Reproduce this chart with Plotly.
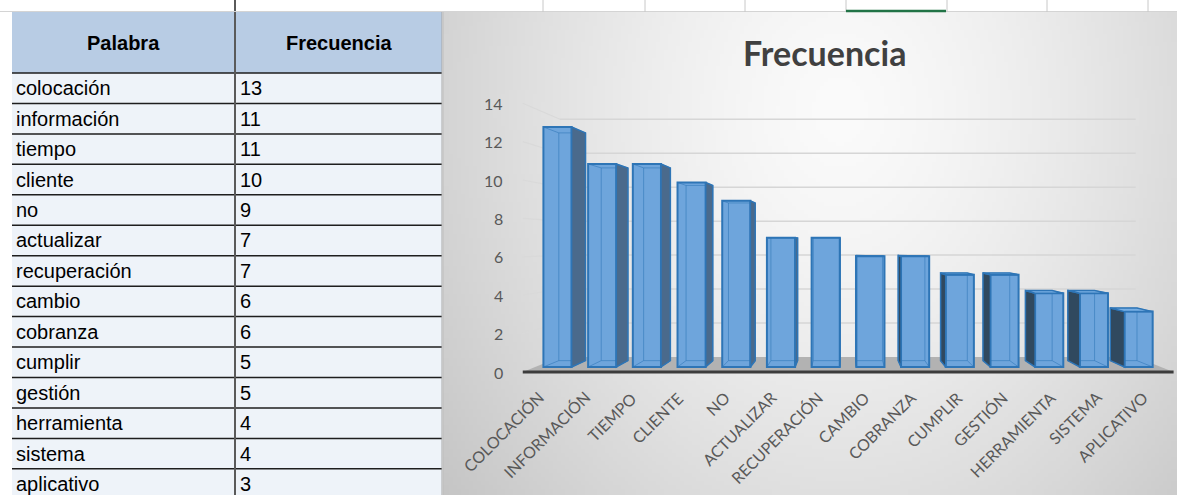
import base64
import struct
import zlib

import numpy as np
import plotly.graph_objects as go

# ---------------------------------------------------------------- data
palabras = ["colocación", "información", "tiempo", "cliente", "no", "actualizar",
            "recuperación", "cambio", "cobranza", "cumplir", "gestión",
            "herramienta", "sistema", "aplicativo"]
frecuencias = [13, 11, 11, 10, 9, 7, 7, 6, 6, 5, 5, 4, 4, 3]
marcas_y = [0, 2, 4, 6, 8, 10, 12, 14]
etiquetas_x = [p.upper() for p in palabras]

# ---------------------------------------------------------------- layout constants
W, H = 1177, 495
CAT_PX = 44.7        # horizontal distance between two columns (bar plane)
CAT0_PX = 557.5      # centre of the first column
UNIT_PX = 18.46      # one frequency unit on the bar plane
BASE_PX = 367        # baseline of the bar plane

S_FRONT = 1.04       # depth scale of the floor / side-wall front edge
S_BAR_BACK = 0.949   # depth scale of the back face of every column
S_WALL = 0.92        # depth scale of the back wall
BAR_W = 0.63

n = len(frecuencias)


def dx(px):
    return (px - CAT0_PX) / CAT_PX


def dy(py):
    return (BASE_PX - py) / UNIT_PX


VX, VY = dx(845), dy(242)   # vanishing point in data units


def proj(x, v, s):
    return VX + (x - VX) * s, VY + (v - VY) * s


def fx(px):
    return px / W


def fy(py):
    return 1 - py / H


def path(points):
    return "M " + " L ".join(f"{x:.4f},{y:.4f}" for x, y in points) + " Z"


# ---------------------------------------------------------------- background gradient
def gray_png(arr):
    h, w = arr.shape
    raw = b"".join(b"\x00" + row.tobytes() for row in arr.astype(np.uint8))

    def chunk(tag, data):
        c = struct.pack(">I", len(data)) + tag + data
        return c + struct.pack(">I", zlib.crc32(tag + data) & 0xFFFFFFFF)

    png = b"\x89PNG\r\n\x1a\n"
    png += chunk(b"IHDR", struct.pack(">IIBBBBB", w, h, 8, 0, 0, 0, 0))
    png += chunk(b"IDAT", zlib.compress(raw, 9))
    png += chunk(b"IEND", b"")
    return "data:image/png;base64," + base64.b64encode(png).decode()


CH_X0, CH_Y0 = 443, 12
gw, gh = 184, 121
gx = CH_X0 + (np.arange(gw) + 0.5) * (W - CH_X0) / gw
gy = CH_Y0 + (np.arange(gh) + 0.5) * (H - CH_Y0) / gh
GX, GY = np.meshgrid(gx, gy)
d = np.sqrt(((GX - 840) / 450) ** 2 + ((GY - 110) / 560) ** 2)
bg = np.clip(251 - 46 * np.clip(d, 0, 1.4) ** 1.4, 0, 255)

fig = go.Figure()

# ---------------------------------------------------------------- 3D column chart
fig.add_trace(go.Bar(
    x=list(range(n)), y=frecuencias, width=BAR_W,
    marker=dict(color="#6ea5dc", line=dict(color="#2e75b6", width=2)),
    hoverinfo="skip", showlegend=False,
))

right_x, right_y, left_x, left_y, top_x, top_y, edge_x, edge_y = ([] for _ in range(8))
for i, v in enumerate(frecuencias):
    L, R = i - BAR_W / 2, i + BAR_W / 2
    if R < VX:
        pts = [proj(R, v, 1), proj(R, v, S_BAR_BACK), proj(R, 0, S_BAR_BACK), proj(R, 0, 1)]
        right_x += [p[0] for p in pts] + [pts[0][0], None]
        right_y += [p[1] for p in pts] + [pts[0][1], None]
    if L > VX:
        pts = [proj(L, v, 1), proj(L, v, S_BAR_BACK), proj(L, 0, S_BAR_BACK), proj(L, 0, 1)]
        left_x += [p[0] for p in pts] + [pts[0][0], None]
        left_y += [p[1] for p in pts] + [pts[0][1], None]
    if v < VY:
        pts = [proj(L, v, 1), proj(R, v, 1), proj(R, v, S_BAR_BACK), proj(L, v, S_BAR_BACK)]
        top_x += [p[0] for p in pts] + [pts[0][0], None]
        top_y += [p[1] for p in pts] + [pts[0][1], None]
    # hidden edges seen through the translucent front face
    back = [proj(L, 0, S_BAR_BACK), proj(R, 0, S_BAR_BACK),
            proj(R, v, S_BAR_BACK), proj(L, v, S_BAR_BACK), proj(L, 0, S_BAR_BACK)]
    edge_x += [p[0] for p in back] + [None]
    edge_y += [p[1] for p in back] + [None]
    for cx_ in (L, R):
        for vv in (0, v):
            a, b = proj(cx_, vv, 1), proj(cx_, vv, S_BAR_BACK)
            edge_x += [a[0], b[0], None]
            edge_y += [a[1], b[1], None]

fig.add_trace(go.Scatter(x=edge_x, y=edge_y, mode="lines",
                         line=dict(color="rgba(46,117,182,0.55)", width=1),
                         hoverinfo="skip", showlegend=False))
fig.add_trace(go.Scatter(x=right_x, y=right_y, mode="lines", fill="toself",
                         fillcolor="#4a6a8c", line=dict(color="#2e75b6", width=1.5),
                         hoverinfo="skip", showlegend=False))
fig.add_trace(go.Scatter(x=left_x, y=left_y, mode="lines", fill="toself",
                         fillcolor="#30495f", line=dict(color="#2e75b6", width=1.5),
                         hoverinfo="skip", showlegend=False))
fig.add_trace(go.Scatter(x=top_x, y=top_y, mode="lines", fill="toself",
                         fillcolor="#7ab0e4", line=dict(color="#2e75b6", width=1.5),
                         hoverinfo="skip", showlegend=False))

shapes = []

# floor
x_lo, x_hi = -0.5, n - 0.5
shapes.append(dict(type="path", xref="x", yref="y", layer="below",
                   path=path([proj(x_lo, 0, S_FRONT), proj(x_hi, 0, S_FRONT),
                              proj(x_hi, 0, S_WALL), proj(x_lo, 0, S_WALL)]),
                   fillcolor="#b2b2b2", line=dict(width=0)))
a, b = proj(x_lo, 0, S_FRONT), proj(x_hi, 0, S_FRONT)
shapes.append(dict(type="line", xref="x", yref="y", layer="below",
                   x0=a[0], y0=a[1], x1=b[0], y1=b[1],
                   line=dict(color="#3c3c3c", width=3)))

# gridlines on the back wall and on the side wall
for v in marcas_y[1:]:
    a, b = proj(x_lo, v, S_WALL), proj(x_hi, v, S_WALL)
    shapes.append(dict(type="line", xref="x", yref="y", layer="below",
                       x0=a[0], y0=a[1], x1=b[0], y1=b[1],
                       line=dict(color="#d6d6d6", width=1.5)))
    c = proj(x_lo, v, S_FRONT)
    shapes.append(dict(type="line", xref="x", yref="y", layer="below",
                       x0=c[0], y0=c[1], x1=a[0], y1=a[1],
                       line=dict(color="#d9d9d9", width=1.2)))

annotations = []

# value axis labels
for v in marcas_y:
    p = proj(x_lo, v, S_FRONT)
    annotations.append(dict(x=p[0] - 18 / CAT_PX, y=p[1], xref="x", yref="y",
                            text=str(v), showarrow=False, xanchor="right",
                            yanchor="middle",
                            font=dict(family="Lato", size=16, color="#595959")))

# category labels
for i, lab in enumerate(etiquetas_x):
    p = proj(i, 0, S_FRONT)
    annotations.append(dict(x=p[0] + 4 / CAT_PX, y=dy(385), xref="x", yref="y",
                            text=lab, showarrow=False, textangle=-45,
                            xanchor="right", yanchor="top",
                            font=dict(family="Lato", size=16, color="#595959")))

# chart title
annotations.append(dict(x=fx(824), y=fy(52), xref="paper", yref="paper",
                        text="<b>Frecuencia</b>", showarrow=False,
                        xanchor="center", yanchor="middle",
                        font=dict(family="Lato", size=34, color="#404040")))

# ---------------------------------------------------------------- spreadsheet frame
TABLE_L, COL_DIV, TABLE_R = 12, 235, 442
HEAD_T, HEAD_B = 12, 73
ROW_H = 30.45


def prect(x0, y0, x1, y1, **kw):
    return dict(type="rect", xref="paper", yref="paper",
                x0=fx(x0), x1=fx(x1), y0=fy(y1), y1=fy(y0), **kw)


def pline(x0, y0, x1, y1, color, width):
    return dict(type="line", xref="paper", yref="paper",
                x0=fx(x0), x1=fx(x1), y0=fy(y0), y1=fy(y1),
                line=dict(color=color, width=width))


shapes.append(prect(TABLE_L, HEAD_T, TABLE_R, HEAD_B,
                    fillcolor="#b8cce4", line=dict(width=0)))
shapes.append(prect(TABLE_L, HEAD_B, TABLE_R, H,
                    fillcolor="#eef3f9", line=dict(width=0)))
for k in range(n):
    yk = HEAD_B + k * ROW_H
    shapes.append(pline(TABLE_L, yk, TABLE_R, yk, "#1e1e1e", 1.5))
shapes.append(pline(COL_DIV, 0, COL_DIV, H, "#5a5a5a", 2))
shapes.append(pline(TABLE_R, 12, TABLE_R, H, "#a6a6a6", 1))

# sheet header strip above the chart
shapes.append(pline(0, 11.5, W, 11.5, "#d4d4d4", 1))
for colx in [543, 645, 745, 846, 947, 1047, 1148]:
    shapes.append(pline(colx, 0, colx, 12, "#c8c8c8", 1))
shapes.append(pline(846, 11, 946, 11, "#217346", 2.5))
shapes.append(pline(CH_X0, 12, CH_X0, H, "#bdbdbd", 1))

annotations.append(dict(x=fx((TABLE_L + COL_DIV) / 2), y=fy((HEAD_T + HEAD_B) / 2),
                        xref="paper", yref="paper", text="<b>Palabra</b>",
                        showarrow=False, xanchor="center", yanchor="middle",
                        font=dict(family="Liberation Sans", size=20, color="#000")))
annotations.append(dict(x=fx((COL_DIV + TABLE_R) / 2), y=fy((HEAD_T + HEAD_B) / 2),
                        xref="paper", yref="paper", text="<b>Frecuencia</b>",
                        showarrow=False, xanchor="center", yanchor="middle",
                        font=dict(family="Liberation Sans", size=20, color="#000")))
for k, (pal, fr) in enumerate(zip(palabras, frecuencias)):
    yc = HEAD_B + (k + 0.5) * ROW_H
    annotations.append(dict(x=fx(14), y=fy(yc), xref="paper", yref="paper",
                            text=pal, showarrow=False, xanchor="left", yanchor="middle",
                            font=dict(family="Liberation Sans", size=20, color="#000")))
    annotations.append(dict(x=fx(238), y=fy(yc), xref="paper", yref="paper",
                            text=str(fr), showarrow=False, xanchor="left", yanchor="middle",
                            font=dict(family="Liberation Sans", size=20, color="#000")))

fig.update_layout(
    width=W, height=H,
    margin=dict(l=0, r=0, t=0, b=0),
    paper_bgcolor="white", plot_bgcolor="rgba(0,0,0,0)",
    xaxis=dict(range=[dx(0), dx(W)], domain=[0, 1], visible=False, fixedrange=True),
    yaxis=dict(range=[dy(H), dy(0)], domain=[0, 1], visible=False, fixedrange=True),
    shapes=shapes, annotations=annotations,
    images=[dict(source=gray_png(bg), xref="paper", yref="paper",
                 x=fx(CH_X0), y=fy(CH_Y0), sizex=(W - CH_X0) / W, sizey=(H - CH_Y0) / H,
                 xanchor="left", yanchor="top", sizing="stretch", layer="below")],
    showlegend=False,
)

fig.write_html("out.html", config={"displayModeBar": False})
